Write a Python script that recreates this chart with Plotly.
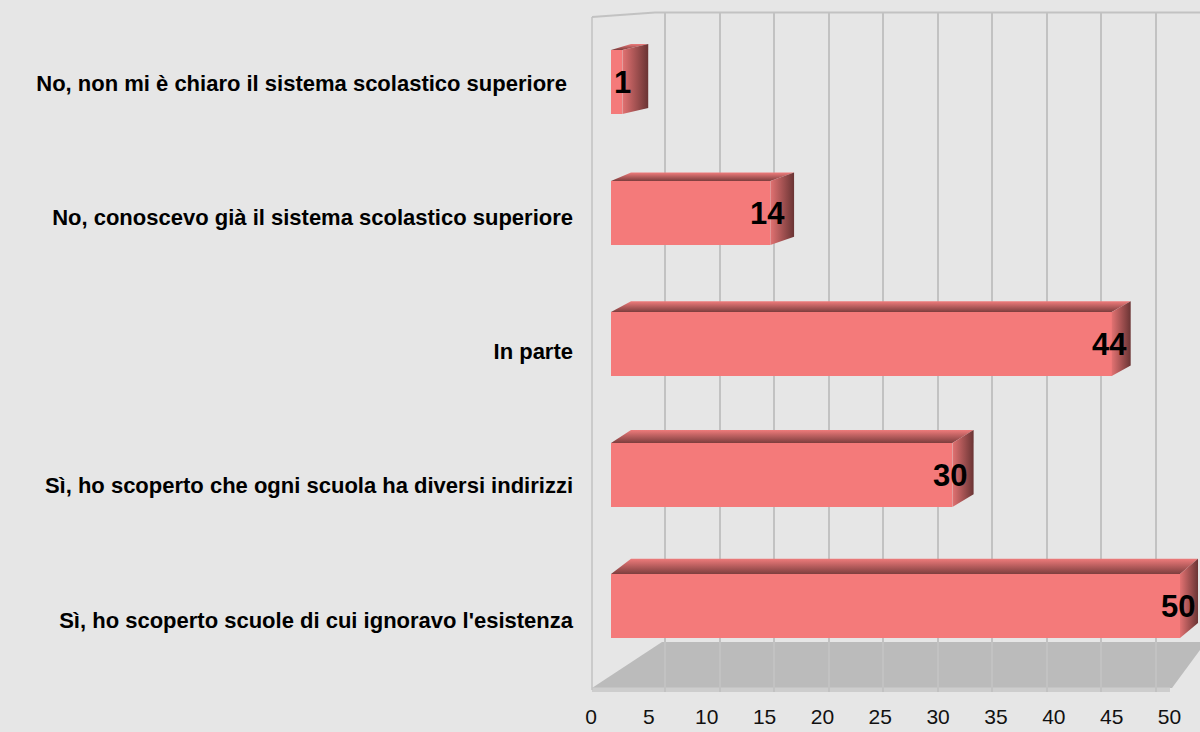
import plotly.graph_objects as go

# ---------------- data ----------------
categories = [
    "No, non mi è chiaro il sistema scolastico superiore ",
    "No, conoscevo già il sistema scolastico superiore",
    "In parte",
    "Sì, ho scoperto che ogni scuola ha diversi indirizzi",
    "Sì, ho scoperto scuole di cui ignoravo l'esistenza",
]
values = [1, 14, 44, 30, 50]
x_ticks = [0, 5, 10, 15, 20, 25, 30, 35, 40, 45, 50]

# ---------------- geometry / style ----------------
W, H = 1200, 732
L, R, T, B = 590, 0, 12, 40
PW, PH = W - L - R, H - T - B
BOTTOM = H - B

BG = "#E6E6E6"
FRONT = "#F47A7A"
SIDE_LIGHT = "#E27272"
SIDE_DARK = "#6A3434"
TOP_DARK = "#7E3E3E"
TOP_LIGHT = "#EE7B7B"
GRID = "#C2C2C2"
FLOOR = "#BBBBBB"

# bar (front plane) scale
bar_ppu, bar_x0 = 11.38, 611
row_px, row0 = 131.0, 82.0
x_range = [(L - bar_x0) / bar_ppu, (W - R - bar_x0) / bar_ppu]
y_range = [(BOTTOM - row0) / row_px, (T - row0) / row_px]

# tick label (floor front edge) scale
tk_ppu, tk_x0 = 11.57, 591
x2_range = [(L - tk_x0) / tk_ppu, (W - R - tk_x0) / tk_ppu]

# back wall grid scale
gr_ppu, gr_x0 = 10.9, 610.5
x3_range = [(L - gr_x0) / gr_ppu, (W - R - gr_x0) / gr_ppu]

# category label scale
lab_px, lab0 = 134.25, 83.0
y2_range = [(BOTTOM - lab0) / lab_px, (T - lab0) / lab_px]

idx = list(range(len(categories)))
half = 0.245


def px(x):
    return (x - L) / PW


def py(y):
    return (BOTTOM - y) / PH


fig = go.Figure()

# invisible helpers so that the overlaid axes are drawn
fig.add_trace(go.Scatter(x=x_ticks, y=[0] * len(x_ticks), xaxis="x2", yaxis="y",
                         mode="markers", marker=dict(opacity=0),
                         hoverinfo="skip", showlegend=False))
fig.add_trace(go.Scatter(x=x_ticks, y=[0] * len(x_ticks), xaxis="x3", yaxis="y",
                         mode="markers", marker=dict(opacity=0),
                         hoverinfo="skip", showlegend=False))
fig.add_trace(go.Scatter(x=[0] * len(idx), y=idx, xaxis="x", yaxis="y2",
                         mode="markers", marker=dict(opacity=0),
                         hoverinfo="skip", showlegend=False))

fig.add_trace(go.Bar(
    x=values, y=idx, orientation="h", width=2 * half,
    marker=dict(color=FRONT, line=dict(width=0)),
    hovertext=categories, hoverinfo="text+x", showlegend=False,
))

annotations = []
for i, v in enumerate(values):
    dx = 26 - 8 * v / 50.0
    dy = -(6 + 2.3 * i)
    ox = dx / bar_ppu
    oy = dy / row_px
    ox0 = 20 / bar_ppu
    yt, yb = i - half, i + half
    # top face
    fig.add_trace(go.Scatter(
        x=[0, ox0, v + ox, v, 0],
        y=[yt, yt + oy, yt + oy, yt, yt],
        mode="lines", line=dict(width=0), fill="toself",
        fillgradient=dict(type="vertical",
                          colorscale=[[0, TOP_DARK], [1, TOP_LIGHT]]),
        hoverinfo="skip", showlegend=False,
    ))
    # side face
    fig.add_trace(go.Scatter(
        x=[v, v + ox, v + ox, v, v],
        y=[yt, yt + oy, yb + oy, yb, yt],
        mode="lines", line=dict(width=0), fill="toself",
        fillgradient=dict(type="horizontal",
                          colorscale=[[0, SIDE_LIGHT], [1, SIDE_DARK]]),
        hoverinfo="skip", showlegend=False,
    ))
    if v < 3:
        ann = dict(x=0, xanchor="left", xshift=1)
    else:
        ann = dict(x=v, xanchor="right", xshift=17)
    ann.update(y=i, yanchor="middle", xref="x", yref="y", text=str(v),
               showarrow=False,
               font=dict(family="Liberation Sans, Arial, sans-serif",
                         size=31, color="#000000", weight="bold"))
    annotations.append(ann)

shapes = [
    # floor
    dict(type="path", xref="paper", yref="paper", layer="between",
         path=(f"M {px(592)},{py(688)} L {px(662)},{py(642)} "
               f"L {px(1200)},{py(642)} L {px(1200)},{py(650)} "
               f"L {px(1172)},{py(688)} Z"),
         fillcolor=FLOOR, line=dict(width=0)),
    dict(type="rect", xref="paper", yref="paper", layer="between",
         x0=px(592), x1=px(1170), y0=py(692), y1=py(687.5),
         fillcolor="#CDCDCD", line=dict(width=0)),
    # left wall edge
    dict(type="line", xref="paper", yref="paper", layer="between",
         x0=px(592), x1=px(592), y0=py(17), y1=py(690),
         line=dict(color=GRID, width=1.5)),
    # top wall edge
    dict(type="path", xref="paper", yref="paper", layer="between",
         path=f"M {px(592)},{py(17)} L {px(655)},{py(12.5)} L {px(1200)},{py(12.5)}",
         line=dict(color=GRID, width=2)),
]

label_font = dict(family="Liberation Sans, Arial, sans-serif", size=22,
                  color="#000000", weight="bold")

fig.update_layout(
    width=W, height=H,
    margin=dict(l=L, r=R, t=T, b=B, pad=0),
    paper_bgcolor=BG, plot_bgcolor=BG,
    showlegend=False,
    bargap=0,
    xaxis=dict(range=x_range, showgrid=False, zeroline=False,
               showticklabels=False, showline=False, fixedrange=True),
    xaxis2=dict(range=x2_range, overlaying="x", anchor="y", side="bottom",
                tickmode="array", tickvals=x_ticks,
                ticktext=[str(t) for t in x_ticks],
                showgrid=False, zeroline=False, showline=False, ticks="",
                ticklabelstandoff=10,
                tickfont=dict(family="Liberation Sans, Arial, sans-serif",
                              size=21, color="#111111")),
    xaxis3=dict(range=x3_range, overlaying="x", anchor="y",
                tickmode="array", tickvals=x_ticks[1:],
                showticklabels=False, showgrid=True, gridcolor=GRID,
                gridwidth=2, zeroline=False, showline=False, ticks=""),
    yaxis=dict(range=y_range, showgrid=False, zeroline=False,
               showticklabels=False, showline=False, fixedrange=True),
    yaxis2=dict(range=y2_range, overlaying="y", anchor="x", side="left",
                tickmode="array", tickvals=idx, ticktext=categories,
                showgrid=False, zeroline=False, showline=False, ticks="",
                ticklabelstandoff=16, tickfont=label_font),
    shapes=shapes,
    annotations=annotations,
)

fig.write_html(
    "out.html",
    config={"displayModeBar": False},
    post_script="document.body.style.margin='0';document.body.style.background='#E6E6E6';",
)
